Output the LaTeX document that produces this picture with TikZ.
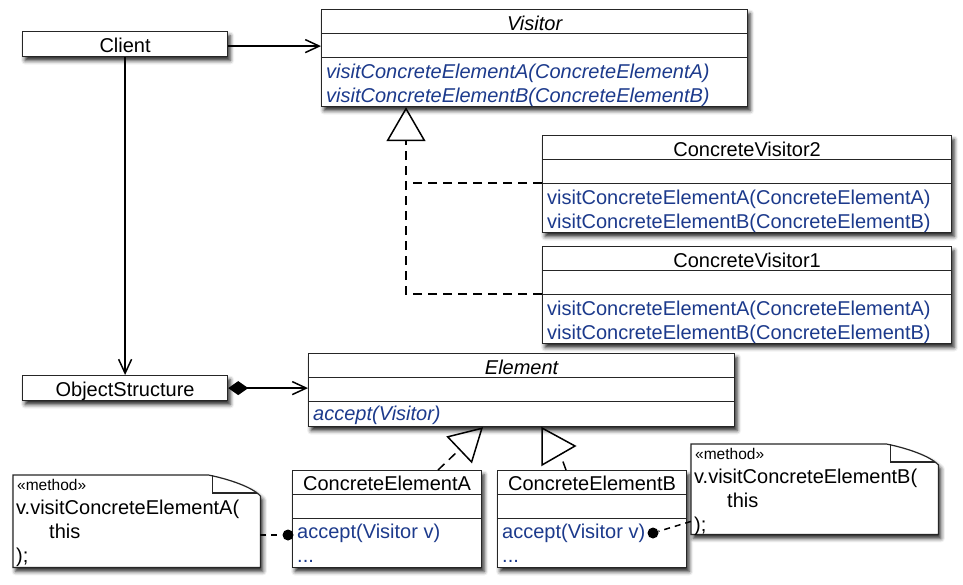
\documentclass[tikz,border=0pt]{standalone}
\usepackage{fontspec}
\setmainfont{Liberation Sans}
\usetikzlibrary{arrows.meta,shadows.blur}
\definecolor{opblue}{RGB}{28,58,140}

\begin{document}
\begin{tikzpicture}
    [
        x=1pt,y=-1pt,
        font=\fontsize{20}{24}\selectfont,
        umlbox/.style={draw=black!85,line width=1.2pt,fill=white,inner sep=0pt,anchor=north west,
            blur shadow={shadow xshift=2.5pt,shadow yshift=-4pt,shadow blur radius=4pt,shadow opacity=85}},
        umlclass/.style={umlbox,
            path picture={
                \draw[black!85,line width=1.2pt]
                ([yshift=-24pt]path picture bounding box.north west) -- ([yshift=-24pt]path picture bounding box.north east)
                ([yshift=-48pt]path picture bounding box.north west) -- ([yshift=-48pt]path picture bounding box.north east);
            }},
        ttl/.style={anchor=base,inner sep=0pt},
        opn/.style={anchor=base west,inner sep=0pt,text=opblue},
        notetxt/.style={anchor=base west,inner sep=0pt},
        notebody/.style={draw=black!85,line width=1.2pt,fill=white,
            blur shadow={shadow xshift=2.5pt,shadow yshift=-4pt,shadow blur radius=4pt,shadow opacity=85}},
        dot/.style={circle,fill=black,inner sep=0pt,minimum size=11pt},
        assoc/.style={line width=1.5pt,-{Straight Barb[length=14pt,width=13pt]}},
        realize/.style={line width=1.5pt,dash pattern=on 9pt off 6pt},
    ]
    \useasboundingbox (0,0) rectangle (963,584);

    % Client and object structure
    \node[umlbox,minimum width=205pt,minimum height=25pt,text height=17pt,text depth=0pt] (client) at (22,31) {Client};
    \node[umlbox,minimum width=205pt,minimum height=25pt,text height=17pt,text depth=0pt] (objs) at (22,375) {ObjectStructure};

    % The visitors
    \node[umlclass,minimum width=426pt,minimum height=97pt] (visitor) at (321,9) {};
    \node[ttl] (visitorttl) at ([yshift=-21pt]visitor.north) {\itshape Visitor};
    \node[opn] (visitora) at ([xshift=5pt,yshift=-69pt]visitor.north west) {\itshape visitConcreteElementA(ConcreteElementA)};
    \node[opn] (visitorb) at ([xshift=5pt,yshift=-93pt]visitor.north west) {\itshape visitConcreteElementB(ConcreteElementB)};

    \foreach \k/\y in {2/135,1/246}{
        \node[umlclass,minimum width=409pt,minimum height=97pt] (cv\k) at (542,\y) {};
        \node[ttl] (cv\k ttl) at ([yshift=-21pt]cv\k.north) {ConcreteVisitor\k};
        \node[opn] (cv\k a) at ([xshift=5pt,yshift=-69pt]cv\k.north west) {visitConcreteElementA(ConcreteElementA)};
        \node[opn] (cv\k b) at ([xshift=5pt,yshift=-93pt]cv\k.north west) {visitConcreteElementB(ConcreteElementB)};
    }

    % The elements
    \node[umlclass,minimum width=426pt,minimum height=73pt] (element) at (308,353) {};
    \node[ttl] (elementttl) at ([yshift=-21pt]element.north) {\itshape Element};
    \node[opn] (elementop) at ([xshift=5pt,yshift=-67pt]element.north west) {\itshape accept(Visitor)};

    \foreach \k/\x in {A/292,B/497}{
        \node[umlclass,minimum width=189pt,minimum height=97pt] (ce\k) at (\x,470) {};
        \node[ttl] (ce\k ttl) at ([yshift=-20pt]ce\k.north) {ConcreteElement\k};
        \node[opn] (ce\k acc) at ([xshift=5pt,yshift=-68pt]ce\k.north west) {accept(Visitor v)};
        \node[opn] (ce\k dots) at ([xshift=5pt,yshift=-92pt]ce\k.north west) {...};
    }

    % The notes
    \node[inner sep=0pt,minimum width=247pt,minimum height=92pt,anchor=north west] (noteA) at (13,475) {};
    \node[inner sep=0pt,minimum width=247pt,minimum height=90pt,anchor=north west] (noteB) at (691,444) {};
    \foreach \k in {A,B}{
        \path[notebody] (note\k.north west) -- ([xshift=-52pt]note\k.north east)
            .. controls ([xshift=-32pt,yshift=-4pt]note\k.north east) and ([xshift=-8pt,yshift=-12pt]note\k.north east)
            .. ([yshift=-21pt]note\k.north east) -- (note\k.south east) -- (note\k.south west) -- cycle;
        \draw[black!85,line width=1.2pt] ([xshift=-48pt]note\k.north east) -- ([xshift=-48pt,yshift=-18pt]note\k.north east)
            -- ([xshift=-3pt,yshift=-18pt]note\k.north east);
        \node[notetxt,font=\fontsize{15.5}{18}\selectfont] (note\k st) at ([xshift=4pt,yshift=-15pt]note\k.north west) {«method»};
        \node[notetxt] (note\k call) at ([xshift=3pt,yshift=-39pt]note\k.north west) {v.visitConcreteElement\k(};
        \node[notetxt] (note\k this) at ([xshift=36pt,yshift=-63pt]note\k.north west) {this};
        \node[notetxt] (note\k end) at ([xshift=3pt,yshift=-87pt]note\k.north west) {);};
    }

    % Associations
    \draw[assoc] ([yshift=-2pt]client.east) -- ([yshift=-2pt]client.east -| visitor.west);
    \draw[assoc] (client) -- (objs);
    \draw[line width=1.5pt,{Diamond[length=20pt,width=14pt,fill=black]}-{Straight Barb[length=14pt,width=13pt]}] (objs.east) -- (objs.east -| element.west);

    % Realizations
    \coordinate (vtip) at ([xshift=85pt]visitor.south west);
    \draw[realize,-{Triangle[open,length=34pt,width=39pt]}] ([yshift=-48pt]cv1.north west) -| (vtip);
    \draw[realize] ([yshift=-48pt]cv2.north west) -- ([yshift=-48pt]cv2.north west -| vtip);

    \coordinate (etip) at ([xshift=175pt]element.south west);
    \draw[realize,-{Triangle[open,length=33pt,width=37pt]}] ([xshift=146pt]ceA.north west) -- (etip);
    \draw[line width=1.5pt] (542,428) -- (575,446) -- (542,465) -- cycle;
    \draw[realize] ([xshift=69pt]ceB.north west) -- ++(-4,-11);

    % Note links
    \node[dot] (dotA) at (288,535) {};
    \node[dot] (dotB) at (653,533) {};
    \draw[realize,dash pattern=on 6pt off 5pt] (noteA.east |- dotA) -- (dotA);
    \draw[realize,dash pattern=on 6pt off 5pt] ([yshift=13pt]noteB.south west) -- (dotB);
\end{tikzpicture}
\end{document}
